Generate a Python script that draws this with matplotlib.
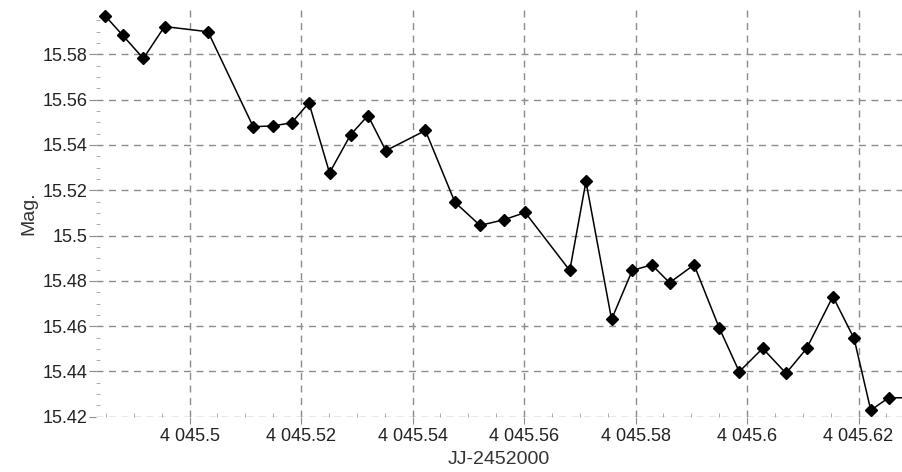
import numpy as np
import matplotlib.pyplot as plt
from matplotlib.ticker import MultipleLocator, FuncFormatter

plt.rcParams['font.family'] = ['Liberation Sans', 'DejaVu Sans']

# ---------- 数据 (JJ-2452000, Mag.) ----------
jd = [4045.4849, 4045.4880, 4045.4917, 4045.4955, 4045.5033, 4045.5114,
      4045.5149, 4045.5183, 4045.5214, 4045.5251, 4045.5289, 4045.5320,
      4045.5352, 4045.5423, 4045.5476, 4045.5521, 4045.5564, 4045.5602,
      4045.5682, 4045.5711, 4045.5757, 4045.5794, 4045.5829, 4045.5861,
      4045.5905, 4045.5950, 4045.5986, 4045.6028, 4045.6070, 4045.6107,
      4045.6154, 4045.6192, 4045.6222, 4045.6254, 4045.6290]
mag = [15.5969, 15.5884, 15.5782, 15.5923, 15.5900, 15.5481,
       15.5484, 15.5498, 15.5586, 15.5277, 15.5446, 15.5530,
       15.5375, 15.5464, 15.5147, 15.5045, 15.5070, 15.5102,
       15.4846, 15.5239, 15.4630, 15.4846, 15.4871, 15.4792,
       15.4871, 15.4593, 15.4399, 15.4502, 15.4392, 15.4502,
       15.4731, 15.4546, 15.4229, 15.4284, 15.4284]


def x_fmt(v, pos):
    s = '%g' % round(v, 4)
    ent, _, dec = s.partition('.')
    ent = '{:,}'.format(int(ent)).replace(',', ' ')
    return ent + ('.' + dec if dec else '')


def y_fmt(v, pos):
    return '%g' % round(v, 4)


fig = plt.figure(figsize=(9.02, 4.72), dpi=100)
ax = fig.add_axes([0.1064, 0.1165, 0.8936, 0.8623])

ax.plot(jd, mag, color='black', lw=1.1, marker='D', ms=6.2,
        mfc='black', mec='black', zorder=3)

# 上限略低于 15.6，顶部不出 15.6 的刻度
ax.set_xlim(4045.4832, 4045.6278)
ax.set_ylim(15.4199, 15.5996)

ax.xaxis.set_major_locator(MultipleLocator(0.02))
ax.xaxis.set_minor_locator(MultipleLocator(0.005))
ax.yaxis.set_major_locator(MultipleLocator(0.02))
ax.yaxis.set_minor_locator(MultipleLocator(0.005))
ax.xaxis.set_major_formatter(FuncFormatter(x_fmt))
ax.yaxis.set_major_formatter(FuncFormatter(y_fmt))

ax.grid(True, which='major', color='#8c8c8c', linestyle=(0, (5, 4)), lw=1.0)
for s in ax.spines.values():
    s.set_visible(False)

ax.tick_params(which='major', direction='out', length=5, color='#8c8c8c',
               labelsize=13, labelcolor='#222222', pad=1)
ax.tick_params(which='minor', direction='in', length=3, color='#a0a0a0')
ax.tick_params(axis='x', which='major', pad=3)

ax.set_xlabel('JJ-2452000', fontsize=14, color='#333333', labelpad=4)
ax.set_ylabel('Mag.', fontsize=14, color='#333333', labelpad=4)

fig.savefig('out.png', dpi=100)
